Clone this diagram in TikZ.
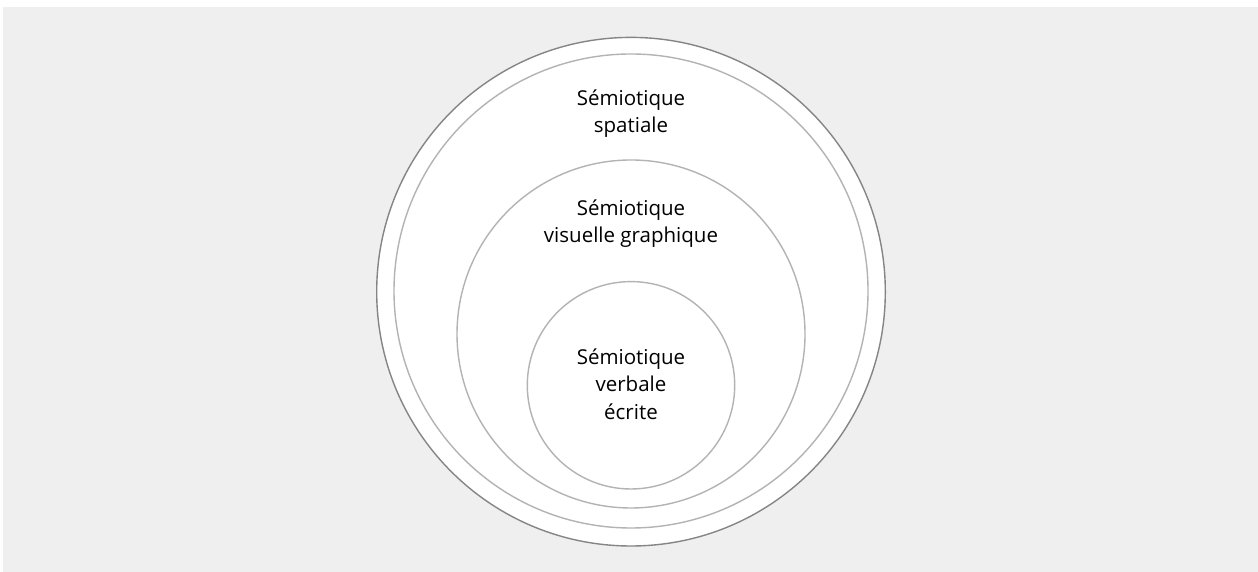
\documentclass[tikz,border=0pt]{standalone}
\usepackage{fontspec}
\setmainfont{Open Sans}
\definecolor{bggray}{HTML}{EFEFEF}
\definecolor{outerline}{HTML}{858585}
\definecolor{innerline}{HTML}{B3B3B3}
\begin{document}
\begin{tikzpicture}[x=1pt,y=1pt,
  ring/.style={circle,draw=innerline,line width=1.4pt,inner sep=0pt,fill=white},
  lbl/.style={align=center,font=\fontsize{20.5}{27.5}\selectfont,text=black,inner sep=0pt}]
\useasboundingbox (0,0) rectangle (1258,572);
\fill[bggray] (3,0) rectangle (1258,565);
\node[ring,draw=outerline,minimum size=508.6pt] (c1) at (631,280.3) {};
\node[ring,minimum size=474pt] (c2) at (631,281) {};
\node[ring,minimum size=348pt] (c3) at (631,238) {};
\node[ring,minimum size=207.4pt] (c4) at (631,186.7) {};
\node[lbl] (t1) at (631,458.5) {Sémiotique\\spatiale};
\node[lbl] (t2) at (631,348.5) {Sémiotique\\visuelle graphique};
\node[lbl] (t3) at (631,188) {Sémiotique\\verbale\\écrite};
\end{tikzpicture}
\end{document}
